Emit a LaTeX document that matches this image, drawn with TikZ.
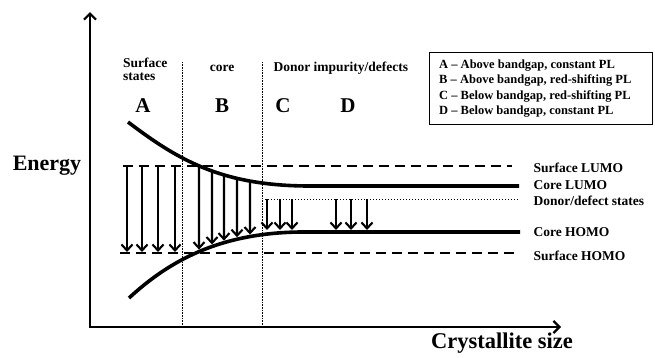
\documentclass[tikz,border=0pt]{standalone}
\usepackage{fontspec}
\setmainfont{Liberation Serif}
\usepackage{tikz}
\usetikzlibrary{arrows.meta, positioning, intersections}

\begin{document}
\begin{tikzpicture}[x=1pt, y=-1pt,
        axis/.style={line width=2.2pt, {Straight Barb[length=6pt,width=12pt]}-{Straight Barb[length=6pt,width=12pt]}},
        band/.style={line width=3.6pt},
        surf/.style={line width=2.2pt, dash pattern=on 10pt off 6pt},
        divider/.style={line width=0.6pt, densely dotted},
        trans/.style={line width=2.1pt, -{Straight Barb[length=6pt,width=11pt]}},
        lbl/.style={font=\bfseries\fontsize{13.5}{14}\selectfont, anchor=west},
        region/.style={font=\bfseries\fontsize{21}{22}\selectfont}]
    \useasboundingbox (0,0) rectangle (655,357);
%
    \draw[axis] (90,12) -- (90,327) -- (561,327);
    \node[font=\bfseries\fontsize{22}{24}\selectfont] (energy) at (47,166) {Energy};
    \node[font=\bfseries\fontsize{22.5}{24}\selectfont] (size) at (502,343) {Crystallite size};
%
    \draw[divider] (182,62) -- (182,327);
    \draw[divider] (262,62) -- (262,327);
%
    \draw[surf] (123,166) -- (512,166);
    \draw[surf] (120,253) -- (518,253);
    \draw[band, name path=lumo] (128,122) .. controls (178,160) and (222,186) .. (310,186) -- (519,186);
    \draw[band, name path=homo] (129,298) .. controls (168,262) and (218,233) .. (300,232) -- (520,232);
    \draw[line width=1pt, dotted] (265,199) -- (519,199);
%
    \foreach \x in {127,142,158,175}
        \draw[trans] (\x,166) -- (\x,252);
    \foreach \x in {199,212,224,237,250} {
        \path[name path=cut] (\x,100) -- (\x,300);
        \path[name intersections={of=lumo and cut, by=top}];
        \path[name intersections={of=homo and cut, by=bot}];
        \draw[trans, shorten >=2pt] (top) -- (bot);
    }
    \foreach \x in {267,280,292,336,351,367}
        \draw[trans] (\x,199) -- (\x,230);
%
    \node[lbl, align=left, anchor=north west, inner sep=0pt] (surfstates) at (123,58) {Surface\\[-1pt]states};
    \node[lbl, anchor=center] (core) at (222,68) {core};
    \node[lbl] (donor) at (270,68) {Donor impurity/defects};
    \node[region] (A) at (143,106) {A};
    \node[region] (B) at (222,106) {B};
    \node[region] (C) at (283,106) {C};
    \node[region] (D) at (348,106) {D};
%
    \node[draw, line width=0.8pt, minimum width=223pt, minimum height=72pt, anchor=north west] (legend) at (429,52) {};
    \node[font=\bfseries\fontsize{12.5}{15.3}\selectfont, align=left, anchor=west, inner sep=0pt] (legtext) at ([xshift=10pt]legend.west)
        {A -- Above bandgap, constant PL\\B -- Above bandgap, red-shifting PL\\C -- Below bandgap, red-shifting PL\\D -- Below bandgap, constant PL};
%
    \node[lbl] (slumo) at (530,168) {Surface LUMO};
    \node[lbl] (clumo) at (530,185) {Core LUMO};
    \node[lbl] (dstates) at (530,201) {Donor/defect states};
    \node[lbl] (chomo) at (530,232) {Core HOMO};
    \node[lbl] (shomo) at (530,256) {Surface HOMO};
\end{tikzpicture}
\end{document}
